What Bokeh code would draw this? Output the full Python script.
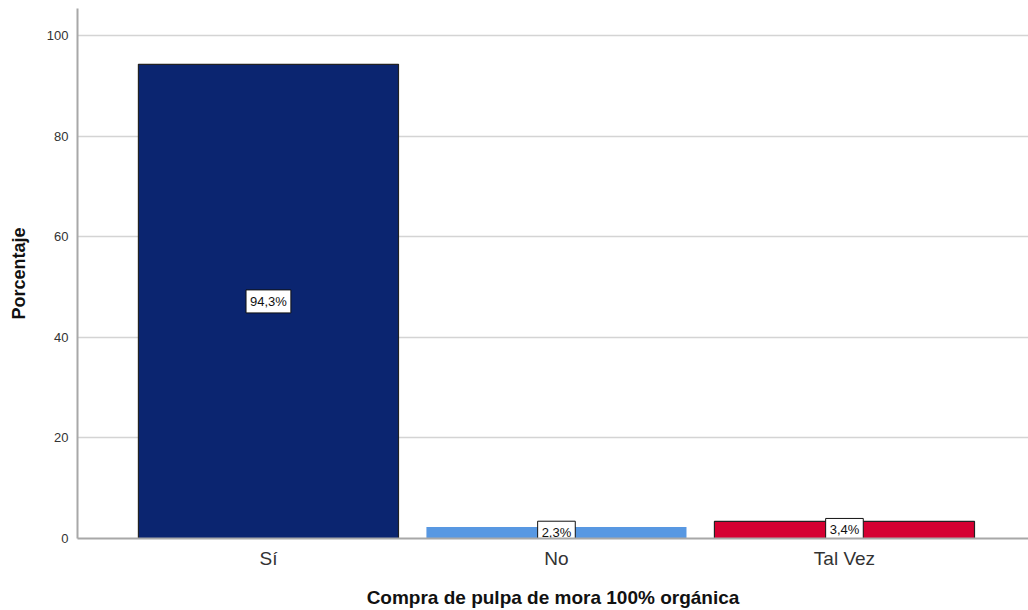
from bokeh.plotting import figure
from bokeh.models import ColumnDataSource, FixedTicker, Range1d
from bokeh.core.properties import value
from bokeh.embed import file_html
from bokeh.resources import INLINE

# Survey result: purchase of 100% organic blackberry pulp
categories = ["Sí", "No", "Tal Vez"]
percentages = [94.3, 2.3, 3.4]
bar_colors = ["#0b2570", "#5898e2", "#d50032"]
bar_outlines = ["#222222", None, "#222222"]
y_ticks = [0, 20, 40, 60, 80, 100]

xs = list(range(len(categories)))
labels = [f"{v:.1f}%".replace(".", ",") for v in percentages]
source = ColumnDataSource(dict(
    x=xs,
    top=percentages,
    mid=[v / 2 for v in percentages],
    color=bar_colors,
    outline=bar_outlines,
    label=labels,
))

p = figure(
    width=1028, height=610,
    output_backend="svg", toolbar_location=None,
    x_range=Range1d(-0.663, 2.639), y_range=Range1d(0, 105.4),
    min_border_left=77, min_border_right=0, min_border_top=8, min_border_bottom=72,
)
p.outline_line_color = None
p.background_fill_color = "white"
p.border_fill_color = "white"

p.vbar(x="x", top="top", width=0.903, bottom=0, source=source,
       fill_color="color", line_color="outline", line_width=1.2)

# Boxed percentage labels at half the bar height
p.text(x="x", y="mid", text="label", source=source,
       text_align="center", text_baseline="middle",
       text_font=value("Liberation Sans"), text_font_size="13px", text_color="#111111",
       background_fill_color="white", border_line_color="#111111",
       border_line_width=1, padding=[4, 4, 4, 4])

# Axes
p.xaxis.ticker = FixedTicker(ticks=xs)
p.xaxis.major_label_overrides = {i: c for i, c in zip(xs, categories)}
p.yaxis.ticker = FixedTicker(ticks=y_ticks)

for ax in (p.xaxis, p.yaxis):
    ax.axis_line_color = "#a8a8a8"
    ax.axis_line_width = 2
    ax.major_tick_line_color = None
    ax.minor_tick_line_color = None
    ax.major_label_text_font = "Liberation Sans"
    ax.major_label_text_color = "#333333"
    ax.axis_label_text_font = "Liberation Sans"
    ax.axis_label_text_font_style = "bold"
    ax.axis_label_text_color = "#111111"

p.xaxis.major_label_text_font_size = "19px"
p.xaxis.major_label_standoff = 3
p.xaxis.axis_label = "Compra de pulpa de mora 100% orgánica"
p.xaxis.axis_label_text_font_size = "19px"
p.xaxis.axis_label_standoff = 15

p.yaxis.major_label_text_font_size = "13px"
p.yaxis.major_label_standoff = 3
p.yaxis.axis_label = "Porcentaje"
p.yaxis.axis_label_text_font_size = "18px"
p.yaxis.axis_label_standoff = 15

p.xgrid.grid_line_color = None
p.ygrid.grid_line_color = "#d4d4d4"
p.ygrid.grid_line_width = 1.5

open("out.html", "w").write(file_html(p, INLINE))
